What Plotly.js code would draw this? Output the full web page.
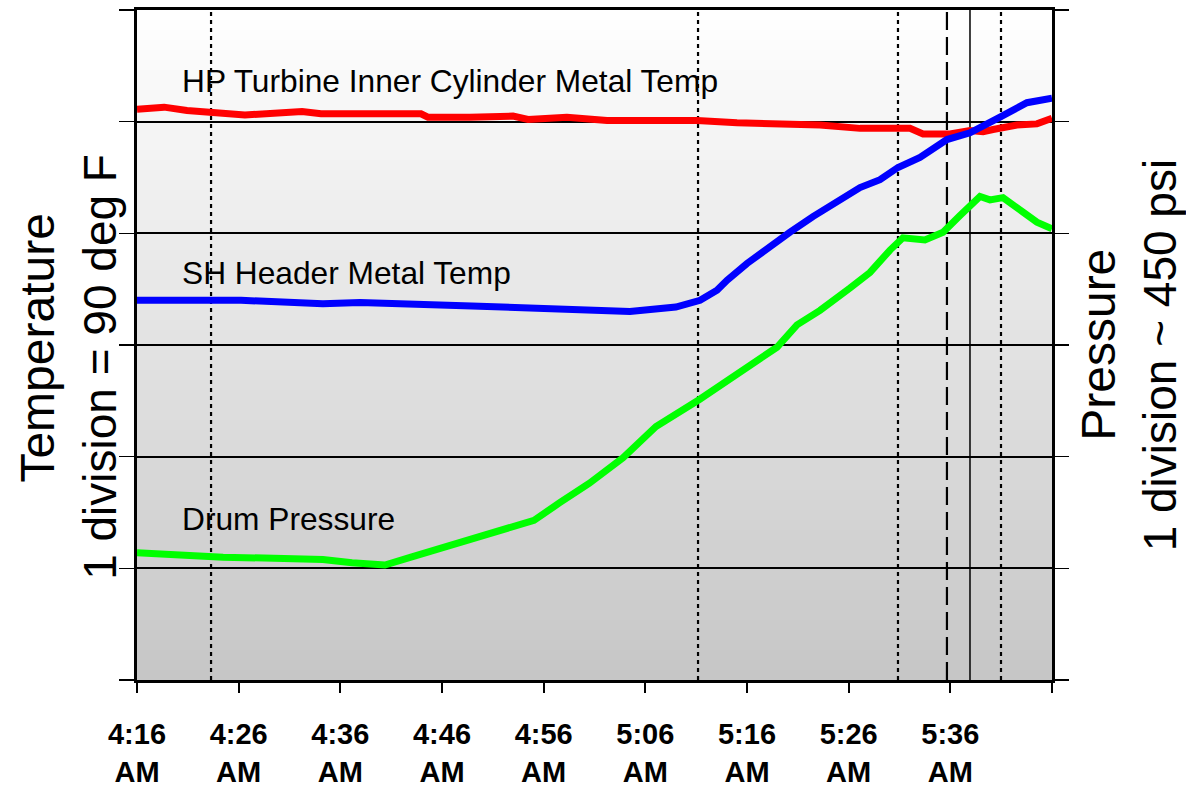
<!DOCTYPE html>
<html>
<head>
<meta charset="utf-8">
<script src="https://cdn.plot.ly/plotly-3.0.1.min.js"></script>
<style>html,body{margin:0;padding:0;background:#fff;}#chart{width:1186px;height:788px;}</style>
</head>
<body>
<div id="chart"></div>
<script>
// ---- Data (values in "divisions"; 1 division = 90 deg F for temperatures, ~450 psi for pressure)
var hpTurbineTime = ["04:16:00","04:18:40","04:20:55","04:26:37","04:32:14","04:34:06","04:43:56","04:44:37","04:48:45","04:52:59","04:54:28","04:58:17","05:02:14","05:11:05","05:15:01","05:19:15","05:23:11","05:27:07","05:32:02","05:33:19","05:35:58","05:37:56","05:39:13","05:40:12","05:42:33","05:44:31","05:46:00"];
var hpTurbineTemp = [5.11,5.13,5.10,5.06,5.09,5.07,5.07,5.04,5.04,5.05,5.02,5.04,5.01,5.01,4.99,4.98,4.97,4.94,4.94,4.89,4.89,4.92,4.91,4.93,4.97,4.98,5.03];

var shHeaderTime = ["04:16:00","04:26:14","04:34:17","04:37:56","04:48:56","04:58:58","05:04:29","05:09:00","05:11:23","05:13:03","05:14:02","05:16:00","05:17:17","05:19:15","05:20:14","05:22:29","05:24:10","05:25:56","05:27:07","05:29:05","05:30:51","05:33:01","05:35:40","05:37:56","05:39:36","05:40:53","05:43:32","05:46:00"];
var shHeaderTemp = [3.40,3.40,3.37,3.38,3.35,3.31,3.30,3.34,3.40,3.49,3.58,3.73,3.82,3.94,4.01,4.15,4.25,4.34,4.41,4.48,4.59,4.68,4.84,4.90,4.97,5.04,5.17,5.21];

var drumTime = ["04:16:00","04:20:02","04:24:28","04:29:28","04:34:17","04:37:09","04:40:23","04:42:57","04:46:17","04:49:56","04:52:47","04:55:03","04:57:37","05:00:28","05:03:48","05:07:03","05:11:17","05:16:35","05:18:57","05:20:55","05:23:11","05:26:08","05:28:06","05:30:04","05:31:20","05:33:30","05:35:17","05:36:57","05:37:56","05:38:55","05:39:54","05:41:11","05:43:09","05:44:31","05:46:00"];
var drumPressure = [1.14,1.12,1.10,1.09,1.08,1.05,1.03,1.10,1.19,1.28,1.36,1.43,1.59,1.76,1.99,2.27,2.51,2.84,2.98,3.18,3.31,3.51,3.65,3.85,3.96,3.94,4.01,4.16,4.25,4.33,4.30,4.32,4.19,4.10,4.04];

var tickTimes = ["04:16","04:26","04:36","04:46","04:56","05:06","05:16","05:26","05:36","05:46"];
var tickLabels = ["4:16<br>AM","4:26<br>AM","4:36<br>AM","4:46<br>AM","4:56<br>AM","5:06<br>AM","5:16<br>AM","5:26<br>AM","5:36<br>AM",""];

var markerTimes = ["04:23:17","05:11:11","05:30:51","05:35:40","05:37:56","05:40:59"];
var markerStyles = ["dot","dot","dot","dash","solid","dot"];

var seriesLabels = ["HP Turbine Inner Cylinder Metal Temp","SH Header Metal Temp","Drum Pressure"];

// ---- helpers
var day = "2000-01-01 ";
function d(arr){ return arr.map(function(t){ return day + t; }); }

var FONT = "Liberation Sans, Arial, Helvetica, sans-serif";

var traces = [
  {x: d(hpTurbineTime), y: hpTurbineTemp, mode: "lines", name: seriesLabels[0],
   line: {color: "#ff0000", width: 7}},
  {x: d(shHeaderTime), y: shHeaderTemp, mode: "lines", name: seriesLabels[1],
   line: {color: "#0000ff", width: 7}},
  {x: d(drumTime), y: drumPressure, mode: "lines", name: seriesLabels[2], yaxis: "y2",
   line: {color: "#00ff00", width: 7}}
];

// background gradient bands
var shapes = [];
var nBands = 67;
for (var i = 0; i < nBands; i++) {
  var f = (i + 0.5) / nBands; // 0 bottom -> 1 top
  var c = Math.round(198 + (255 - 198) * f);
  shapes.push({type: "rect", xref: "paper", yref: "paper", x0: 0, x1: 1,
    y0: i / nBands, y1: (i + 1) / nBands, fillcolor: "rgb(" + c + "," + c + "," + c + ")",
    line: {width: 0}, layer: "below"});
}
var dashMap = {dot: "4px,4px", dash: "18px,7px", solid: "solid"};
markerTimes.forEach(function(t, k){
  shapes.push({type: "line", xref: "x", yref: "paper", x0: day + t, x1: day + t, y0: 0, y1: 1,
    line: {color: "#000", width: markerStyles[k] === "solid" ? 1.5 : 2.2, dash: dashMap[markerStyles[k]]},
    layer: "between"});
});

var annotations = [
  {text: seriesLabels[0], xref: "paper", yref: "paper", x: 0.047, y: 0.894, xanchor: "left", yanchor: "middle", showarrow: false, font: {family: FONT, size: 31.7, color: "#000"}},
  {text: seriesLabels[1], xref: "paper", yref: "paper", x: 0.047, y: 0.607, xanchor: "left", yanchor: "middle", showarrow: false, font: {family: FONT, size: 31.7, color: "#000"}},
  {text: seriesLabels[2], xref: "paper", yref: "paper", x: 0.047, y: 0.241, xanchor: "left", yanchor: "middle", showarrow: false, font: {family: FONT, size: 31.7, color: "#000"}},
  {text: "Temperature", xref: "paper", yref: "paper", x: -0.109, y: 0.495, xanchor: "center", yanchor: "middle", textangle: -90, showarrow: false, font: {family: FONT, size: 48, color: "#000"}},
  {text: "1 division = 90 deg F", xref: "paper", yref: "paper", x: -0.040, y: 0.468, xanchor: "center", yanchor: "middle", textangle: -90, showarrow: false, font: {family: FONT, size: 46, color: "#000"}},
  {text: "Pressure", xref: "paper", yref: "paper", x: 1.050, y: 0.5, xanchor: "center", yanchor: "middle", textangle: -90, showarrow: false, font: {family: FONT, size: 48, color: "#000"}},
  {text: "1 division ~ 450 psi", xref: "paper", yref: "paper", x: 1.118, y: 0.486, xanchor: "center", yanchor: "middle", textangle: -90, showarrow: false, font: {family: FONT, size: 46, color: "#000"}}
];

var layout = {
  width: 1186, height: 788,
  margin: {l: 137, r: 134, t: 10, b: 108, pad: 0},
  paper_bgcolor: "#ffffff",
  plot_bgcolor: "rgba(0,0,0,0)",
  showlegend: false,
  font: {family: FONT, color: "#000"},
  xaxis: {
    type: "date",
    range: [day + "04:16", day + "05:46"],
    tickvals: d(tickTimes), ticktext: tickLabels,
    tickfont: {family: FONT, size: 29, color: "#000", weight: "bold"},
    ticks: "outside", ticklen: 10, tickwidth: 2, tickcolor: "#000",
    ticklabelstandoff: 16,
    showgrid: false, zeroline: false,
    showline: true, linewidth: 3, linecolor: "#000", mirror: true,
    fixedrange: true
  },
  yaxis: {
    range: [0, 6], tickvals: [0,1,2,3,4,5,6], showticklabels: false,
    ticks: "outside", ticklen: 15, tickwidth: 1.5, tickcolor: "#000",
    showgrid: true, gridcolor: "#000", gridwidth: 1.8,
    zeroline: false, showline: true, linewidth: 3, linecolor: "#000", mirror: true,
    fixedrange: true
  },
  yaxis2: {
    range: [0, 6], tickvals: [0,1,2,3,4,5,6], showticklabels: false,
    overlaying: "y", side: "right",
    ticks: "outside", ticklen: 16, tickwidth: 1.5, tickcolor: "#000",
    showgrid: false, zeroline: false, showline: false,
    fixedrange: true
  },
  shapes: shapes,
  annotations: annotations
};

Plotly.newPlot("chart", traces, layout, {displayModeBar: false, staticPlot: true});
</script>
</body>
</html>
